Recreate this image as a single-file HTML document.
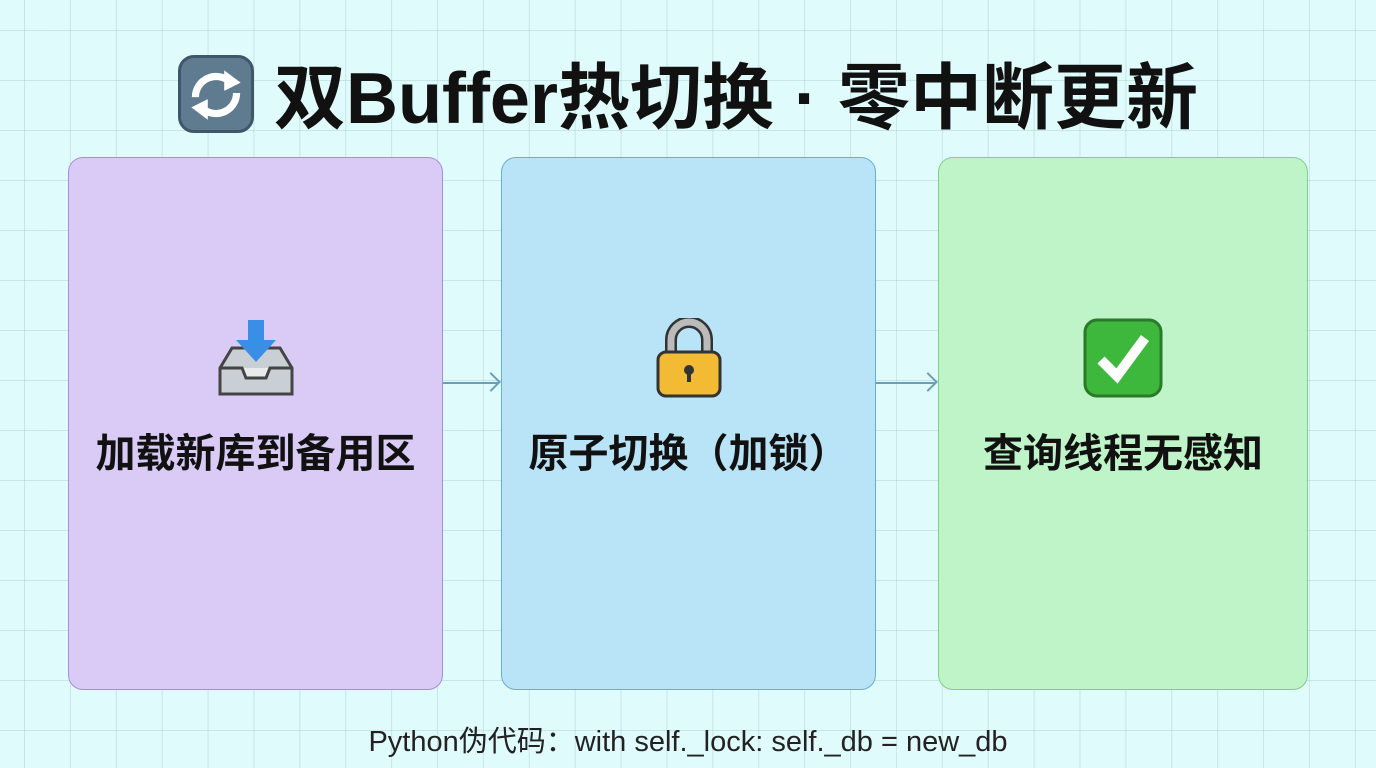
<!DOCTYPE html>
<html><head><meta charset="utf-8"><style>
body{margin:0;width:1376px;height:768px;overflow:hidden;position:relative;
background-color:#e0fbfb;
background-image:linear-gradient(to right,rgba(150,190,195,.35) 1px,transparent 1px),linear-gradient(to bottom,rgba(150,190,195,.35) 1px,transparent 1px);
background-size:45.9px 50px;background-position:24px 30px;
font-family:"Liberation Sans","Noto Sans CJK SC",sans-serif;}
.t{position:absolute;top:55px;left:0;width:1376px;text-align:center;font-size:72px;font-weight:bold;color:#111;line-height:78px;white-space:nowrap}
.ic{display:inline-block;width:76px;height:78px;border-radius:16px;background:#5f7b90;border:3px solid #40566a;vertical-align:-10px;margin-right:20px;position:relative;box-sizing:border-box}
.box{position:absolute;top:157px;height:533px;border-radius:15px;box-sizing:border-box}
.lbl{position:absolute;top:268px;width:100%;text-align:center;font-size:40px;font-weight:bold;color:#111;line-height:56px}
.emo{position:absolute;top:160px;left:50%;transform:translateX(-50%)}
.ar{position:absolute;top:382px;height:2px;background:#6a9fb8}
.ah{position:absolute;top:375px;width:12px;height:12px;border-right:2px solid #6a9fb8;border-top:2px solid #6a9fb8;transform:rotate(45deg)}
.ft{position:absolute;top:718px;left:0;width:1376px;text-align:center;font-size:29px;color:#222}
</style></head><body>
<div class="t"><span class="ic"><svg width="70" height="72" viewBox="0 0 68 70" style="position:absolute;left:0;top:0"><path d="M14 38 A20 20 0 0 1 46 22" stroke="#fff" stroke-width="7" fill="none"/><polygon points="42,12 58,24 42,32" fill="#fff"/><path d="M54 34 A20 20 0 0 1 22 50" stroke="#fff" stroke-width="7" fill="none"/><polygon points="26,60 10,48 26,40" fill="#fff"/></svg></span>双Buffer热切换 · 零中断更新</div>

<div class="box" style="left:68px;width:375px;background:#d9cbf5;border:1.5px solid #a68fd6">
<svg class="emo" width="80" height="80" viewBox="0 0 80 80"><path d="M4 50 L16 30 L64 30 L76 50 L76 76 L4 76Z" fill="#c9cfd4" stroke="#444" stroke-width="3"/><path d="M4 50 L26 50 L30 60 L50 60 L54 50 L76 50" fill="#e8eaec" stroke="#444" stroke-width="3"/><rect x="32" y="2" width="16" height="24" fill="#3a8ee6"/><polygon points="20,22 60,22 40,44" fill="#3a8ee6"/></svg>
<div class="lbl">加载新库到备用区</div></div>

<div class="box" style="left:501px;width:375px;background:#b9e3f7;border:1.5px solid #6aaed0">
<svg class="emo" width="70" height="80" viewBox="0 0 70 80"><path d="M17 40 V22 A18 18 0 0 1 53 22 V40" fill="none" stroke="#333" stroke-width="12"/><path d="M17 40 V22 A18 18 0 0 1 53 22 V40" fill="none" stroke="#bbb" stroke-width="7"/><rect x="4" y="34" width="62" height="44" rx="8" fill="#f2bb33" stroke="#333" stroke-width="3"/><circle cx="35" cy="52" r="5" fill="#333"/><rect x="33" y="52" width="4" height="12" fill="#333"/></svg>
<div class="lbl">原子切换（加锁）</div></div>

<div class="box" style="left:938px;width:370px;background:#bff3c8;border:1.5px solid #7fcf8c">
<svg class="emo" width="80" height="80" viewBox="0 0 80 80"><rect x="2" y="2" width="76" height="76" rx="12" fill="#3eb83c" stroke="#2a7a2a" stroke-width="3"/><path d="M18 42 L34 58 L62 20" stroke="#fff" stroke-width="10" fill="none"/></svg>
<div class="lbl">查询线程无感知</div></div>

<div class="ar" style="left:443px;width:56px"></div><div class="ah" style="left:484px"></div>
<div class="ar" style="left:876px;width:60px"></div><div class="ah" style="left:921px"></div>

<div class="ft">Python伪代码：with self._lock: self._db = new_db</div>
</body></html>
